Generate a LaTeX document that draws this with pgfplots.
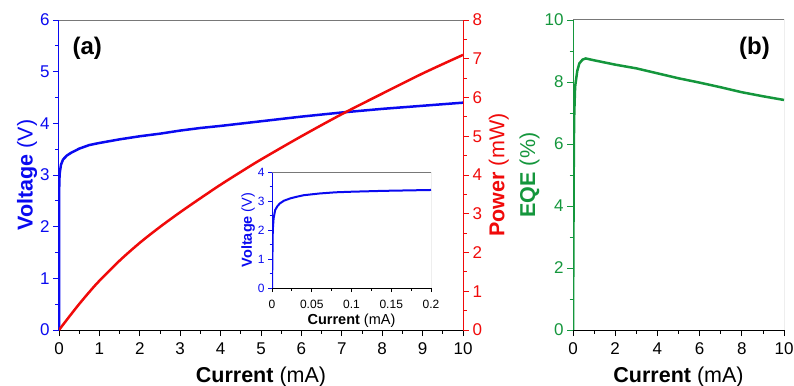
\documentclass[border=0pt]{standalone}
\usepackage{pgfplots}
\pgfplotsset{compat=1.18}
\usepackage{fontspec}
\setmainfont{Liberation Sans}
\definecolor{vblue}{RGB}{10,10,240}
\definecolor{pred}{RGB}{240,10,10}
\definecolor{eqeg}{RGB}{20,150,60}
\definecolor{framegray}{RGB}{120,120,120}

\pgfplotstableread{
x v
0 0
0.0005 1.0
0.001 2.0
0.002 2.4
0.004 2.69
0.01 2.92
0.02 3.05
0.05 3.2
0.1 3.3
0.2 3.38
0.3 3.43
0.5 3.51
0.75 3.58
1 3.62
1.5 3.69
2 3.75
2.5 3.80
3 3.86
3.5 3.91
4 3.95
5 4.04
6 4.13
7 4.21
8 4.28
9 4.34
10 4.40
}\voltdata

\pgfplotstableread{
x p
0 0
0.25 0.34
0.5 0.67
0.75 0.98
1 1.27
1.5 1.79
2 2.25
2.5 2.66
3 3.04
3.5 3.40
4 3.75
4.5 4.08
5 4.40
6 5.00
7 5.57
8 6.10
9 6.62
10 7.10
}\powdata

\pgfplotstableread{
x v
0 0
0.0005 1.0
0.001 2.0
0.002 2.4
0.004 2.69
0.007 2.83
0.01 2.92
0.015 3.01
0.023 3.09
0.03 3.14
0.04 3.20
0.06 3.26
0.08 3.30
0.1 3.32
0.14 3.35
0.2 3.38
}\insetdata

\pgfplotstableread{
x e
0 0
0.02 3
0.04 6
0.06 7
0.1 7.85
0.2 8.35
0.3 8.6
0.45 8.72
0.6 8.76
1 8.70
1.5 8.63
2 8.56
2.5 8.50
3 8.44
3.5 8.36
4 8.28
4.5 8.20
5 8.12
6 7.98
7 7.83
8 7.67
9 7.54
10 7.42
}\eqedata

\begin{document}
\begin{tikzpicture}
\useasboundingbox (0,0) rectangle (794pt,-385pt);
\pgfplotsset{
  every axis/.append style={
    scale only axis, tick align=outside,
    /pgf/number format/assume math mode=true,
    ticklabel style={font=\fontsize{17}{17}\selectfont},
    label style={font=\fontsize{21.5}{22}\selectfont},
    major tick length=6pt, minor tick length=3.5pt,
    every tick/.style={line width=0.8pt},
    axis line style={line width=1pt},
    xticklabel style={text=black, yshift=-3pt},
  },
}
% Panel (a): voltage
\begin{axis}[
  at={(59pt,-330pt)}, anchor=south west, width=404pt, height=310pt,
  xmin=0, xmax=10, ymin=0, ymax=6,
  axis x line*=bottom, axis y line*=left,
  xtick={0,...,10}, minor x tick num=1,
  ytick={0,...,6}, minor y tick num=1,
  x axis line style={black},
  y axis line style={vblue}, ytick style={vblue},
  yticklabel style={text=vblue},
  xlabel={\textbf{Current} (mA)},
  xlabel style={yshift=-5pt},
  ylabel={\textbf{Voltage} (V)},
  ylabel style={text=vblue, yshift=-4pt},
]
\draw[framegray, line width=1pt] (rel axis cs:0,1) -- (rel axis cs:1,1);
\addplot[vblue, line width=2.5pt] table[x=x, y=v] {\voltdata};
\node[font=\bfseries\fontsize{24}{24}\selectfont] at (rel axis cs:0.07,0.91) {(a)};
\end{axis}
% Panel (a): power
\begin{axis}[
  at={(59pt,-330pt)}, anchor=south west, width=404pt, height=310pt,
  xmin=0, xmax=10, ymin=0, ymax=8,
  axis x line=none, axis y line*=right,
  ytick={0,...,8}, minor y tick num=1,
  y axis line style={pred}, ytick style={pred},
  yticklabel style={text=pred},
  ylabel={\textbf{Power} (mW)},
  ylabel style={text=pred},
]
\addplot[pred, line width=2.5pt, smooth] table[x=x, y=p] {\powdata};
\end{axis}
% Inset
\begin{axis}[
  at={(272pt,-288pt)}, anchor=south west, width=159pt, height=116pt,
  xmin=0, xmax=0.2, ymin=0, ymax=4,
  axis background/.style={fill=white},
  axis x line*=bottom, axis y line*=left,
  xtick={0,0.05,0.1,0.15,0.2}, xticklabels={0,0.05,0.1,0.15,0.2},
  scaled x ticks=false, minor x tick num=1,
  ytick={0,...,4}, minor y tick num=1,
  major tick length=4pt, minor tick length=2.5pt,
  ticklabel style={font=\fontsize{12}{12}\selectfont},
  label style={font=\fontsize{14.5}{15}\selectfont},
  xticklabel style={yshift=-2pt},
  x axis line style={black},
  y axis line style={vblue}, ytick style={vblue},
  yticklabel style={text=vblue},
  xlabel={\textbf{Current} (mA)},
  ylabel={\textbf{Voltage} (V)},
  ylabel style={text=vblue},
  xlabel style={yshift=2pt}, ylabel style={yshift=-4pt},
]
\draw[framegray, line width=1pt] (rel axis cs:0,1) -- (rel axis cs:1,1) -- (rel axis cs:1,0);
\addplot[vblue, line width=2pt] table[x=x, y=v] {\insetdata};
\end{axis}
% Panel (b)
\begin{axis}[
  at={(573pt,-330pt)}, anchor=south west, width=211pt, height=310pt,
  xmin=0, xmax=10, ymin=0, ymax=10,
  axis x line*=bottom, axis y line*=left,
  xtick={0,2,...,10}, minor x tick num=1,
  ytick={0,2,...,10}, minor y tick num=1,
  x axis line style={black},
  y axis line style={eqeg}, ytick style={eqeg},
  yticklabel style={text=eqeg},
  xlabel={\textbf{Current} (mA)},
  xlabel style={yshift=-5pt},
  ylabel={\textbf{EQE} (\%)},
  ylabel style={text=eqeg, yshift=-2pt},
]
\draw[framegray, line width=1pt] (rel axis cs:0,1) -- (rel axis cs:1,1) -- (rel axis cs:1,0);
\addplot[eqeg, line width=2.5pt] table[x=x, y=e] {\eqedata};
\node[font=\bfseries\fontsize{24}{24}\selectfont] at (rel axis cs:0.86,0.91) {(b)};
\end{axis}
\end{tikzpicture}
\end{document}
